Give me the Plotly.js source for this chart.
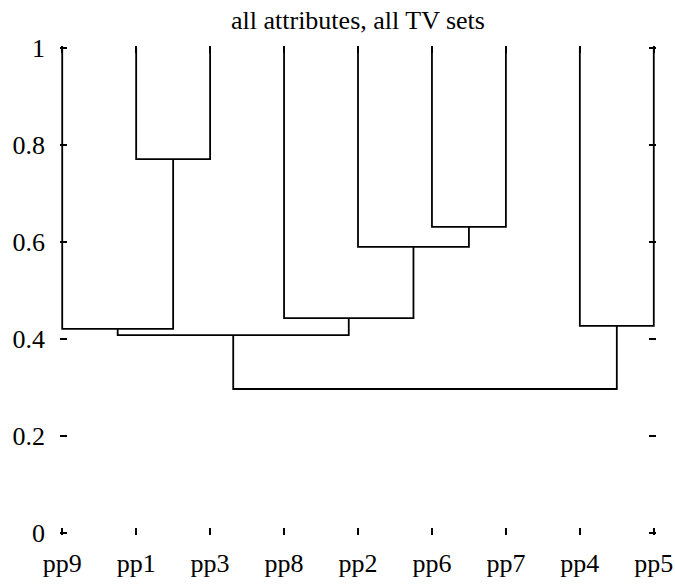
<!DOCTYPE html>
<html>
<head>
<meta charset="utf-8">
<script src="https://cdn.plot.ly/plotly-3.0.1.min.js"></script>
<style>html,body{margin:0;padding:0;background:#fff;}</style>
</head>
<body>
<div id="chart"></div>
<script>
// Leaf order along the x axis
const leaves = ['pp9','pp1','pp3','pp8','pp2','pp6','pp7','pp4','pp5'];
const leafLevel = 1;
// Merge steps: cluster ci is formed by merging mergeLeft[i] and mergeRight[i] at mergeHeight[i]
const mergeLeft   = ['pp1','pp6','pp2','pp8','pp9','c4','pp4','c5'];
const mergeRight  = ['pp3','pp7','c1','c2','c0','c3','pp5','c6'];
const mergeHeight = [0.771, 0.631, 0.590, 0.443, 0.421, 0.408, 0.427, 0.297];
const yTickVals = [0, 0.2, 0.4, 0.6, 0.8, 1];
const yTickText = ['0', '0.2', '0.4', '0.6', '0.8', '1'];

const nodes = {};
leaves.forEach((name, i) => { nodes[name] = {x: i, y: leafLevel}; });
const xs = [], ys = [];
mergeLeft.forEach((l, i) => {
  const a = nodes[l], b = nodes[mergeRight[i]], h = mergeHeight[i];
  xs.push(a.x, a.x, b.x, b.x, null);
  ys.push(a.y, h, h, b.y, null);
  nodes['c' + i] = {x: (a.x + b.x) / 2, y: h};
});

const serif = 'Liberation Serif';
const trace = {
  x: xs, y: ys, type: 'scatter', mode: 'lines',
  line: {color: '#000', width: 1.8}, hoverinfo: 'skip', connectgaps: false
};
const layout = {
  width: 675, height: 585,
  margin: {l: 60, r: 19, t: 46, b: 50},
  paper_bgcolor: '#fff', plot_bgcolor: '#fff',
  showlegend: false,
  font: {family: serif, color: '#000', size: 24},
  title: {text: 'all attributes, all TV sets', font: {family: serif, size: 26, color: '#000'},
          x: 0.5, xref: 'paper', xanchor: 'center', y: 0.966, yref: 'container', yanchor: 'middle'},
  xaxis: {
    range: [-0.03, leaves.length - 1 + 0.03],
    tickvals: leaves.map((_, i) => i), ticktext: leaves,
    ticks: 'inside', ticklen: 7, tickwidth: 1.8, tickcolor: '#000', mirror: 'ticks',
    showline: false, showgrid: false, zeroline: false,
    tickfont: {family: serif, size: 26, color: '#000'}, ticklabelstandoff: 10
  },
  yaxis: {
    range: [-0.004, 1.004],
    tickvals: yTickVals, ticktext: yTickText,
    ticks: 'inside', ticklen: 7, tickwidth: 1.8, tickcolor: '#000', mirror: 'ticks',
    showline: false, showgrid: false, zeroline: false,
    tickfont: {family: serif, size: 26, color: '#000'}, ticklabelstandoff: 14
  }
};
Plotly.newPlot('chart', [trace], layout, {displayModeBar: false});
</script>
</body>
</html>
